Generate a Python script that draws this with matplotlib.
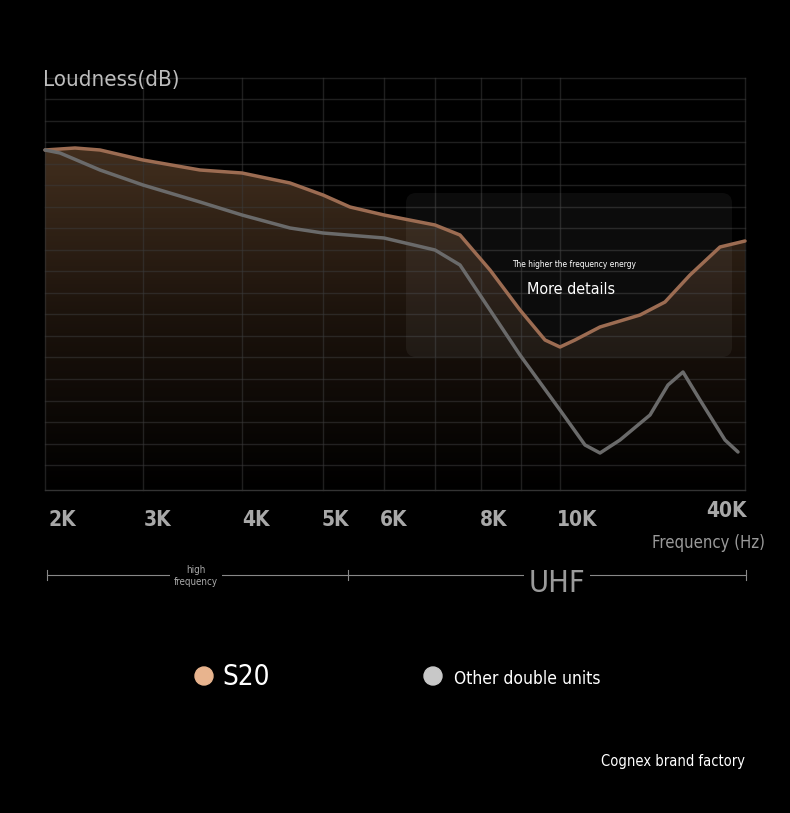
import numpy as np
import matplotlib
matplotlib.use("Agg")
import matplotlib.pyplot as plt
from matplotlib.patches import Polygon, FancyBboxPatch, Circle
from matplotlib.colors import LinearSegmentedColormap

plt.rcParams['font.family'] = ['DejaVu Sans']
plt.rcParams['font.stretch'] = 'condensed'

# curve positions in picture space (x along frequency axis, y = loudness, downward)
s20_x = [45, 75, 100, 143, 200, 242, 290, 323, 350, 384, 435, 460, 490, 520, 545, 560, 575, 600, 640, 665, 690, 720, 745]
s20_y = [150, 148, 150, 160, 170, 173, 183, 195, 207, 215, 225, 235, 270, 310, 340, 347, 340, 327, 315, 302, 275, 247, 241]
other_x = [45, 60, 100, 143, 200, 242, 290, 323, 384, 435, 460, 490, 520, 560, 585, 600, 620, 650, 668, 683, 700, 725, 738]
other_y = [150, 153, 170, 185, 202, 215, 228, 233, 238, 250, 265, 310, 355, 410, 445, 453, 440, 415, 385, 372, 400, 440, 452]

tick_labels = ['2K', '3K', '4K', '5K', '6K', '8K', '10K']
tick_pos = [62, 158, 256, 335, 394, 494, 577]
grid_x = [45, 143, 242, 323, 384, 435, 481, 521, 560, 745]
grid_y = np.arange(78, 480, 21.5)

fig = plt.figure(figsize=(7.9, 8.13), dpi=100, facecolor='black')
ax = fig.add_axes([0, 0, 1, 1])
ax.set_xlim(0, 790)
ax.set_ylim(813, 0)
ax.axis('off')

# gradient fill below S20
grad = np.linspace(1, 0, 256).reshape(-1, 1)
cmap = LinearSegmentedColormap.from_list('b', ['#000000', '#1c130c', '#44301f'])
im = ax.imshow(grad, extent=[45, 745, 490, 140], cmap=cmap, aspect='auto', zorder=1)
poly = Polygon(list(zip(s20_x, s20_y)) + [(745, 490), (45, 490)], closed=True, transform=ax.transData)
im.set_clip_path(poly)

for gx in grid_x:
    ax.plot([gx, gx], [78, 490], color='#3a3a3a', lw=1, alpha=0.55, zorder=2)
for gy in grid_y:
    ax.plot([45, 745], [gy, gy], color='#3a3a3a', lw=1, alpha=0.55, zorder=2)
ax.plot([45, 745], [490, 490], color='#333333', lw=1, zorder=2)

box = FancyBboxPatch((406, 193), 326, 164, boxstyle='round,pad=0,rounding_size=10',
                     facecolor='white', alpha=0.05, edgecolor='none', zorder=3)
ax.add_patch(box)

ax.plot(s20_x, s20_y, color='#9c6c52', lw=2.5, zorder=4, solid_capstyle='round', solid_joinstyle='round')
ax.plot(other_x, other_y, color='#6a6a6a', lw=2.5, zorder=4, solid_capstyle='round', solid_joinstyle='round')

ax.text(43, 80, 'Loudness(dB)', color='#bdbdbd', fontsize=16, va='center', ha='left')
for lab, p in zip(tick_labels, tick_pos):
    ax.text(p, 520, lab, color='#a8a8a8', fontsize=15, fontweight='bold', ha='center', va='center')
ax.text(726, 511, '40K', color='#a8a8a8', fontsize=15, fontweight='bold', ha='center', va='center')
ax.text(709, 543, 'Frequency (Hz)', color='#9a9a9a', fontsize=12, ha='center', va='center')

ax.text(574, 264, 'The higher the frequency energy', color='white', fontsize=6, ha='center', va='center', zorder=5)
ax.text(571, 289, 'More details', color='white', fontsize=11.5, ha='center', va='center', zorder=5)

ax.plot([47, 746], [575, 575], color='#888888', lw=0.8)
for tx in [47, 348, 746]:
    ax.plot([tx, tx], [570, 580], color='#888888', lw=0.8)
ax.text(196, 576, 'high\nfrequency', color='#aaaaaa', fontsize=7, ha='center', va='center',
        linespacing=1.3, bbox=dict(facecolor='black', edgecolor='none', pad=3))
ax.text(557, 583, 'UHF', color='#9a9a9a', fontsize=22, ha='center', va='center',
        bbox=dict(facecolor='black', edgecolor='none', pad=3))

ax.add_patch(Circle((204, 676), 9, color='#e8b48e'))
ax.text(222, 677, 'S20', color='white', fontsize=20, ha='left', va='center')
ax.add_patch(Circle((433, 676), 9, color='#c8c8c8'))
ax.text(454, 679, 'Other double units', color='white', fontsize=12.5, ha='left', va='center')

ax.text(673, 761, 'Cognex brand factory', color='white', fontsize=10.5, ha='center', va='center')

fig.savefig('out.png', dpi=100, facecolor='black')
